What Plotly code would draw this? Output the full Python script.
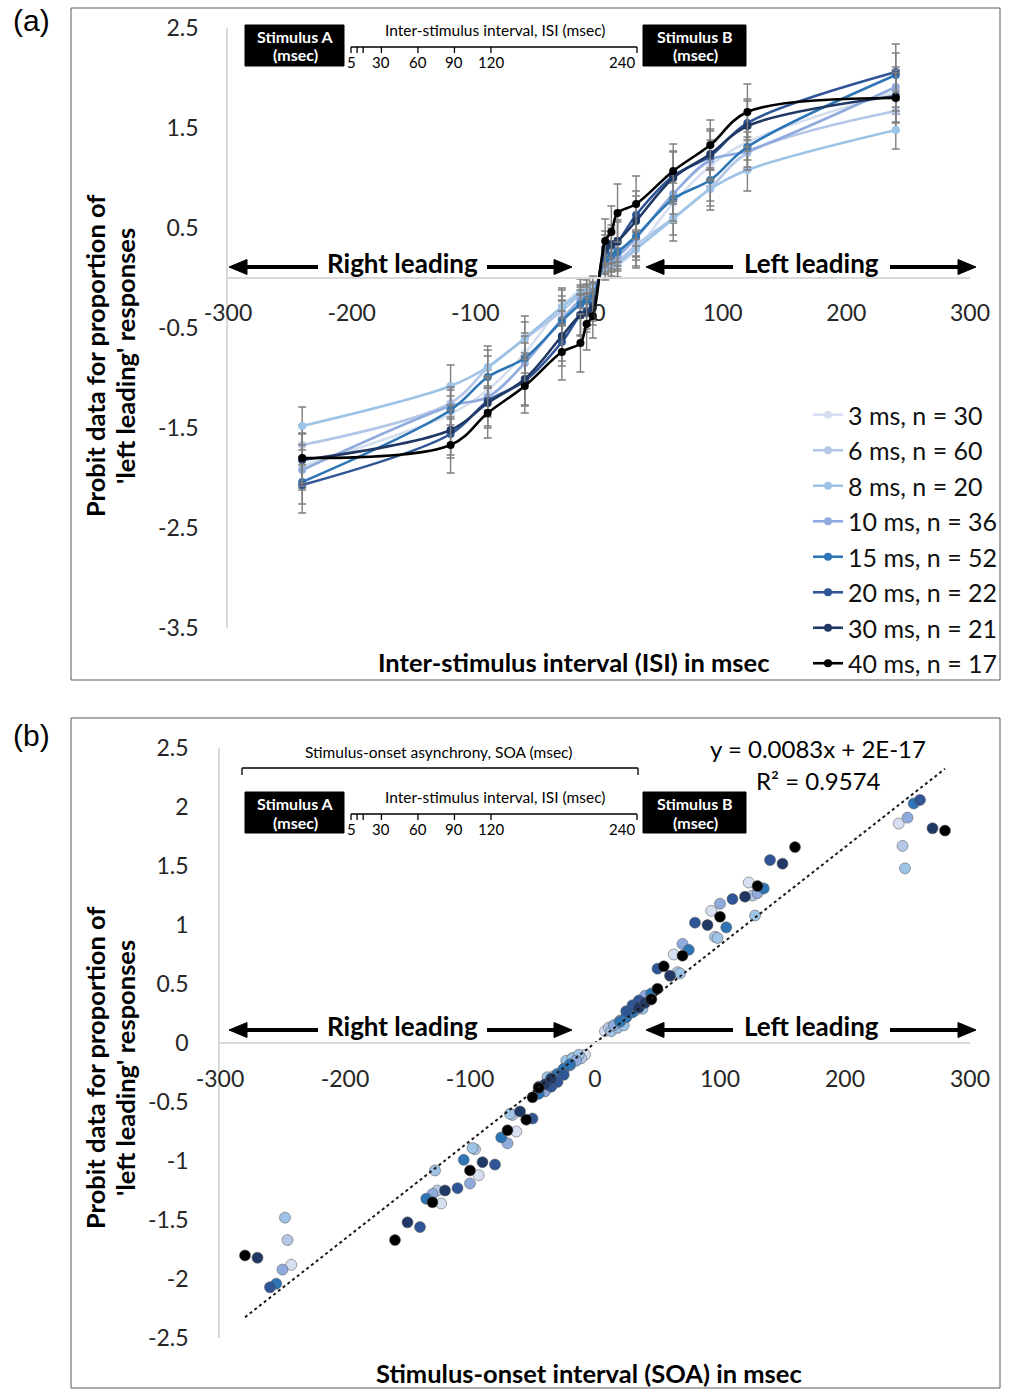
import plotly.graph_objects as go

W, H = 1011, 1389

# ---------------------------------------------------------------- data
isi_ms = [-240, -120, -90, -60, -30, -15, -10, -5, 5, 10, 15, 30, 60, 90, 120, 240]
durations_ms = [3, 6, 8, 10, 15, 20, 30, 40]
sample_sizes = [30, 60, 20, 36, 52, 22, 21, 17]
series_colors = ["#d5dff0", "#b4c7e7", "#9dc3e6", "#8faadc",
                 "#2e75b6", "#2f5597", "#203864", "#000000"]

probit_3ms = [-1.88, -1.36, -1.12, -0.75, -0.28, -0.13, -0.12, -0.10,
              0.10, 0.12, 0.13, 0.28, 0.75, 1.12, 1.36, 1.86]
probit_6ms = [-1.67, -1.25, -0.90, -0.61, -0.33, -0.17, -0.15, -0.13,
              0.13, 0.15, 0.17, 0.33, 0.60, 0.90, 1.25, 1.67]
probit_8ms = [-1.48, -1.08, -0.89, -0.60, -0.29, -0.15, -0.13, -0.10,
              0.10, 0.13, 0.15, 0.29, 0.59, 0.89, 1.08, 1.48]
probit_10ms = [-1.92, -1.28, -1.19, -0.85, -0.41, -0.22, -0.19, -0.15,
               0.15, 0.19, 0.22, 0.40, 0.84, 1.18, 1.27, 1.91]
probit_15ms = [-2.04, -1.32, -0.99, -0.80, -0.43, -0.26, -0.22, -0.18,
               0.18, 0.22, 0.26, 0.42, 0.79, 0.98, 1.31, 2.03]
probit_20ms = [-2.07, -1.56, -1.23, -1.03, -0.64, -0.37, -0.33, -0.27,
               0.27, 0.32, 0.36, 0.63, 1.02, 1.22, 1.55, 2.06]
probit_30ms = [-1.82, -1.52, -1.25, -1.01, -0.58, -0.37, -0.35, -0.30,
               0.30, 0.34, 0.37, 0.57, 1.00, 1.24, 1.52, 1.82]
probit_40ms = [-1.80, -1.67, -1.35, -1.08, -0.74, -0.65, -0.46, -0.38,
               0.37, 0.46, 0.65, 0.74, 1.07, 1.33, 1.66, 1.80]

err_3ms = [0.22, 0.18, 0.20, 0.20, 0.18, 0.12, 0.10, 0.10, 0.10, 0.10, 0.12, 0.18, 0.20, 0.20, 0.18, 0.22]
err_6ms = [0.20, 0.16, 0.18, 0.17, 0.15, 0.10, 0.09, 0.09, 0.09, 0.09, 0.10, 0.15, 0.17, 0.18, 0.16, 0.20]
err_8ms = [0.19, 0.21, 0.21, 0.22, 0.17, 0.15, 0.13, 0.12, 0.12, 0.13, 0.15, 0.17, 0.22, 0.21, 0.21, 0.19]
err_10ms = [0.20, 0.19, 0.20, 0.20, 0.19, 0.13, 0.12, 0.11, 0.11, 0.12, 0.13, 0.19, 0.20, 0.20, 0.19, 0.20]
err_15ms = [0.22, 0.20, 0.21, 0.22, 0.20, 0.14, 0.13, 0.12, 0.12, 0.13, 0.14, 0.20, 0.22, 0.21, 0.20, 0.22]
err_20ms = [0.28, 0.24, 0.25, 0.25, 0.24, 0.20, 0.18, 0.16, 0.16, 0.18, 0.20, 0.24, 0.25, 0.25, 0.24, 0.28]
err_30ms = [0.26, 0.25, 0.25, 0.26, 0.25, 0.21, 0.19, 0.17, 0.17, 0.19, 0.21, 0.25, 0.26, 0.25, 0.25, 0.26]
err_40ms = [0.25, 0.28, 0.25, 0.27, 0.28, 0.29, 0.26, 0.22, 0.22, 0.26, 0.29, 0.28, 0.27, 0.25, 0.28, 0.25]

probit = [probit_3ms, probit_6ms, probit_8ms, probit_10ms,
          probit_15ms, probit_20ms, probit_30ms, probit_40ms]
errors = [err_3ms, err_6ms, err_8ms, err_10ms,
          err_15ms, err_20ms, err_30ms, err_40ms]

x_ticks = [-300, -200, -100, 0, 100, 200, 300]
ya_ticks = [2.5, 1.5, 0.5, -0.5, -1.5, -2.5, -3.5]
yb_ticks = [2.5, 2, 1.5, 1, 0.5, 0, -0.5, -1, -1.5, -2, -2.5]

fit_slope = 0.0083
fit_intercept = 2e-17
fit_r2 = 0.9574

inset_isi_ticks = [5, 10, 15, 30, 60, 90, 120, 240]
inset_isi_labels = ["5", "", "", "30", "60", "90", "120", "240"]

# ---------------------------------------------------------------- helpers
FONT = "Lato"
TXT = "#262626"


def px(x):
    return x / W


def py(y):
    return 1 - y / H


fig = go.Figure()

# ---------------------------------------------------------------- panel (a)
for d, n, col, yv, ev in zip(durations_ms, sample_sizes, series_colors, probit, errors):
    fig.add_trace(go.Scatter(
        x=isi_ms, y=yv, mode="lines+markers",
        name=f"{d} ms, n = {n}", legendgroup=f"g{d}",
        line=dict(color=col, width=2.6, shape="spline", smoothing=1),
        marker=dict(color=col, size=8),
        error_y=dict(type="data", array=ev, color="#7f7f7f", thickness=1.4, width=4),
        xaxis="x", yaxis="y",
    ))

# ---------------------------------------------------------------- panel (b)
all_soa = []
for d, col, yv in zip(durations_ms, series_colors, probit):
    soa = [v + d if v > 0 else v - d for v in isi_ms]
    all_soa += soa
    fig.add_trace(go.Scatter(
        x=soa, y=yv, mode="markers", showlegend=False,
        marker=dict(color=col, size=11, line=dict(color="rgba(90,90,90,0.55)", width=1)),
        xaxis="x2", yaxis="y2",
    ))

fit_x = [min(all_soa), max(all_soa)]
fig.add_trace(go.Scatter(
    x=fit_x, y=[fit_slope * v + fit_intercept for v in fit_x],
    mode="lines", showlegend=False,
    line=dict(color="#1a1a1a", width=2, dash="dot"),
    xaxis="x2", yaxis="y2",
))

axis_common = dict(showgrid=False, zeroline=False, showline=True,
                   linecolor="#d9d9d9", linewidth=1.5, ticks="", automargin=False,
                   tickfont=dict(family=FONT, size=23, color=TXT))

fig.update_layout(
    width=W, height=H,
    margin=dict(l=0, r=0, t=0, b=0, pad=0, autoexpand=False),
    paper_bgcolor="white", plot_bgcolor="white",
    xaxis=dict(domain=[px(228), px(970)], range=[-300, 300], anchor="free",
               position=py(278), tickvals=x_ticks,
               ticktext=[str(v) for v in x_ticks], ticklabelstandoff=15,
               **axis_common),
    yaxis=dict(domain=[py(628), py(28)], range=[-3.5, 2.5], anchor="x",
               tickvals=ya_ticks, ticktext=[f"{v:g}" for v in ya_ticks],
               ticklabelstandoff=23, **axis_common),
    xaxis2=dict(domain=[px(220), px(970)], range=[-300, 300], anchor="free",
                position=py(1043), tickvals=x_ticks,
                ticktext=[str(v) for v in x_ticks], ticklabelstandoff=16,
                **axis_common),
    yaxis2=dict(domain=[py(1338), py(748)], range=[-2.5, 2.5], anchor="x2",
                tickvals=yb_ticks, ticktext=[f"{v:g}" for v in yb_ticks],
                ticklabelstandoff=25, **axis_common),
    legend=dict(x=px(808), y=py(392), xanchor="left", yanchor="top",
                font=dict(family=FONT, size=25, color="#111"),
                bgcolor="rgba(0,0,0,0)", itemwidth=30, tracegroupgap=0),
    showlegend=True,
)

shapes = []
annotations = []


def text(x, y, s, size=23, bold=False, color=TXT, family=FONT, angle=0, xanchor="center"):
    annotations.append(dict(
        x=px(x), y=py(y), xref="paper", yref="paper", text=f"<b>{s}</b>" if bold else s,
        showarrow=False, xanchor=xanchor, yanchor="middle", textangle=angle,
        font=dict(family=family, size=size, color=color)))


def line(x0, y0, x1, y1, width=1.5, color="black", dash=None):
    ln = dict(color=color, width=width)
    if dash:
        ln["dash"] = dash
    shapes.append(dict(type="line", xref="paper", yref="paper",
                       x0=px(x0), y0=py(y0), x1=px(x1), y1=py(y1), line=ln))


def rect(x0, y0, x1, y1, fill=None, color="#595959", width=1):
    shapes.append(dict(type="rect", xref="paper", yref="paper",
                       x0=px(x0), y0=py(y0), x1=px(x1), y1=py(y1),
                       fillcolor=fill if fill else "rgba(0,0,0,0)",
                       line=dict(color=color, width=width), layer="above"))


def arrow(x_tail, x_tip, y):
    head = 18 if x_tip > x_tail else -18
    line(x_tail, y, x_tip - head, y, width=4)
    path = (f"M {px(x_tip)} {py(y)} L {px(x_tip - head)} {py(y - 7.5)} "
            f"L {px(x_tip - head)} {py(y + 7.5)} Z")
    shapes.append(dict(type="path", xref="paper", yref="paper", path=path,
                       fillcolor="black", line=dict(color="black", width=1)))


def inset_x(v):
    return 351 + (v - 5) * (637 - 351) / 235


def isi_inset(top):
    # stimulus boxes and ISI scale drawn between them
    rect(245, top, 344, top + 41, fill="black", color="black")
    rect(643, top, 746, top + 41, fill="black", color="black")
    text(295, top + 11, "Stimulus A", size=16, bold=True, color="white")
    text(295, top + 30, "(msec)", size=16, bold=True, color="white")
    text(695, top + 11, "Stimulus B", size=16, bold=True, color="white")
    text(695, top + 30, "(msec)", size=16, bold=True, color="white")
    text(495, top + 5, "Inter-stimulus interval, ISI (msec)", size=15.5, color="black")
    base = top + 22
    line(inset_x(5), base, inset_x(240), base, width=1.3)
    for v, lab in zip(inset_isi_ticks, inset_isi_labels):
        line(inset_x(v), base, inset_x(v), base + 6, width=1.3)
        if lab:
            text(inset_x(v), base + 15, lab, size=15, color="black",
                 xanchor="right" if v == inset_isi_ticks[-1] else "center")


def leading_arrows(y):
    arrow(318, 229, y)
    text(402, y - 4, "Right leading", size=26, bold=True, color="black")
    arrow(487, 572, y)
    arrow(733, 646, y)
    text(811, y - 4, "Left leading", size=26, bold=True, color="black")
    arrow(890, 976, y)


# panel frames and labels
rect(71, 8, 1000, 680)
rect(71, 718, 1000, 1388)
text(31, 20, "(a)", size=30, family="Liberation Sans", color="black")
text(31, 735, "(b)", size=30, family="Liberation Sans", color="black")

# panel (a) decorations
isi_inset(25)
leading_arrows(267)
text(573, 662, "Inter-stimulus interval (ISI) in msec", size=25.5, bold=True, color="black")
text(95, 356, "Probit data for proportion of", size=25.5, bold=True, color="black", angle=-90)
text(125, 356, "'left leading' responses", size=25.5, bold=True, color="black", angle=-90)

# panel (b) decorations
text(438, 752, "Stimulus-onset asynchrony, SOA (msec)", size=15.5, color="black")
line(242, 768, 638, 768, width=1.3)
line(242, 768, 242, 775, width=1.3)
line(638, 768, 638, 775, width=1.3)
isi_inset(792)
leading_arrows(1030)
text(818, 748, f"y = {fit_slope}x + 2E-17", size=24, color="black")
text(818, 780, f"R² = {fit_r2}", size=24, color="black")
text(589, 1373, "Stimulus-onset interval (SOA) in msec", size=25.5, bold=True, color="black")
text(95, 1068, "Probit data for proportion of", size=25.5, bold=True, color="black", angle=-90)
text(125, 1068, "'left leading' responses", size=25.5, bold=True, color="black", angle=-90)

fig.update_layout(shapes=shapes, annotations=annotations)
fig.write_html("out.html")
